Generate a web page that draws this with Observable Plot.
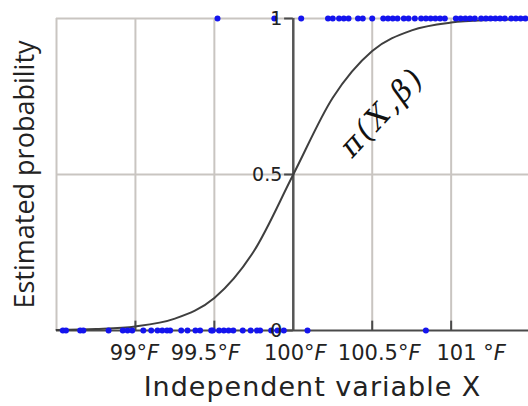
<!DOCTYPE html>
<html>
<head>
<meta charset="utf-8">
<script src="https://cdn.jsdelivr.net/npm/d3@7"></script>
<script src="https://cdn.jsdelivr.net/npm/@observablehq/plot@0.6"></script>
<style>
  html, body { margin: 0; padding: 0; background: #fff; }
  svg { display: block; }
</style>
</head>
<body>
<div id="chart"></div>
<script>
// ---- data ----
const xTicks = [99, 99.5, 100, 100.5, 101];
const xTickLabels = ["99°F", "99.5°F", "100°F", "100.5°F", "101 °F"];
const yTicks = [0, 0.5, 1];
const yTickLabels = ["0", "0.5", "1"];
const xGrid = [98.5, 99, 99.5, 100.5, 101];
const yGrid = [0.5, 1];

// observations with outcome 0
const temps0 = [98.54, 98.56, 98.65, 98.67, 98.83, 98.92, 98.95, 98.98, 99.05, 99.10,
  99.14, 99.17, 99.20, 99.22, 99.29, 99.33, 99.38, 99.41, 99.48, 99.49, 99.53, 99.56,
  99.59, 99.62, 99.68, 99.73, 99.77, 99.79, 99.86, 99.90, 99.94, 100.09, 100.84];
// observations with outcome 1
const temps1 = [99.52, 99.88, 100.05, 100.22, 100.25, 100.29, 100.32, 100.35, 100.41,
  100.44, 100.50, 100.57, 100.60, 100.63, 100.66, 100.70, 100.73, 100.77, 100.81,
  100.84, 100.87, 100.90, 100.93, 100.96, 101.03, 101.06, 101.09, 101.12, 101.15,
  101.19, 101.22, 101.25, 101.28, 101.31, 101.34, 101.38, 101.41, 101.44, 101.47];

// fitted probability curve
const curveX = [98.5, 98.75, 99, 99.25, 99.5, 99.75, 100, 100.25, 100.5, 100.75, 101, 101.25, 101.5];
const curveP = [0.002, 0.005, 0.013, 0.038, 0.104, 0.254, 0.5, 0.746, 0.896, 0.962, 0.987, 0.995, 0.998];

const curve = curveX.map((x, i) => ({x, p: curveP[i]}));
const obs = [
  ...temps0.map(t => ({t, y: 0})),
  ...temps1.map(t => ({t, y: 1}))
];

// styling
const grid = "#c9c5c1";
const dark = "#4a4a4a";
const tickLen = 0.055; // y tick length in x units
const xTickLen = 0.03; // x tick length in y units
const xLabelNudge = [-1, -9, 2, 7, 20]; // horizontal pixel nudges of the x tick labels

const chart = Plot.plot({
  width: 528,
  height: 406,
  marginLeft: 56,
  marginRight: 0,
  marginTop: 18,
  marginBottom: 76,
  x: {domain: [98.5, 101.49], axis: null},
  y: {domain: [0, 1], axis: null},
  marks: [
    Plot.ruleX(xGrid, {stroke: grid, strokeWidth: 2}),
    Plot.ruleY(yGrid, {stroke: grid, strokeWidth: 2}),
    Plot.ruleX(xTicks.filter(d => d !== 100), {x: d => d, y1: 0, y2: xTickLen, stroke: dark, strokeWidth: 2}),
    Plot.ruleX([100], {stroke: "#555", strokeWidth: 2.5}),
    Plot.ruleY(yTicks, {y: d => d, x1: 100 - tickLen, x2: 100, stroke: dark, strokeWidth: 2}),
    Plot.ruleY([0], {stroke: dark, strokeWidth: 2}),
    Plot.line(curve, {x: "x", y: "p", stroke: "#3f3f3f", strokeWidth: 2, curve: "monotone-x"}),
    Plot.dot(obs, {x: "t", y: "y", r: 3, fill: "#1414ee", stroke: "none"}),
    ...xTicks.map((t, i) => Plot.text([t], {x: d => d, y: 0, text: () => xTickLabels[i],
      dy: 23, dx: xLabelNudge[i], fontSize: 21, fontFamily: "DejaVu Sans", fill: "#222"})),
    Plot.text(yTicks, {x: 100, y: d => d, text: (d, i) => yTickLabels[i], textAnchor: "end",
      dx: -11, fontSize: 19, fontFamily: "DejaVu Sans", fill: "#222"}),
    Plot.text(["π(X,β)"], {x: 100.565, y: 0.70, text: d => d, rotate: -47,
      fontSize: 30, fontFamily: "DejaVu Serif", fontStyle: "italic", fill: "#111"}),
    Plot.text(["Independent variable X"], {frameAnchor: "bottom", text: d => d, dy: 57, dx: 20,
      textAnchor: "middle", lineAnchor: "middle",
      fontSize: 27, fontFamily: "DejaVu Sans", fill: "#222"}),
    Plot.text(["Estimated probability"], {frameAnchor: "left", text: d => d, rotate: -90, dx: -31,
      textAnchor: "middle", lineAnchor: "middle",
      fontSize: 27, fontFamily: "Open Sans", fill: "#222"})
  ]
});

// italic "F" in the temperature labels, spacing in the labels
d3.select(chart).selectAll("text").each(function() {
  const s = this.textContent;
  if (/°F$/.test(s)) {
    const sel = d3.select(this);
    sel.text(null);
    sel.append("tspan").text(s.slice(0, -1));
    sel.append("tspan").attr("font-style", "italic").text("F");
  } else if (s === "π(X,β)") {
    d3.select(this).attr("letter-spacing", "3px");
  } else if (s === "Independent variable X") {
    d3.select(this).attr("letter-spacing", "1px");
  }
});

document.getElementById("chart").appendChild(chart);
</script>
</body>
</html>
